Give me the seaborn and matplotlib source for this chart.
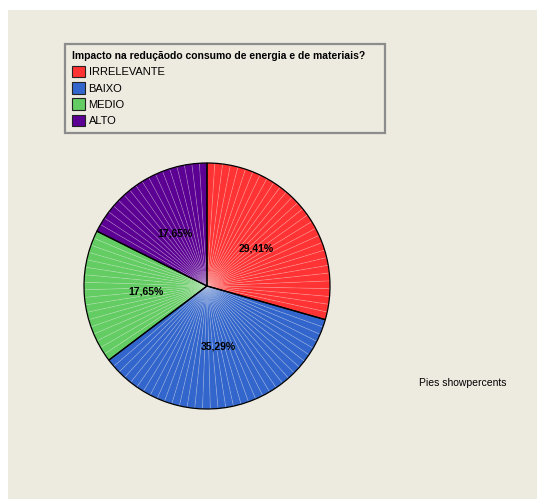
import matplotlib
matplotlib.use("Agg")
import matplotlib.pyplot as plt
from matplotlib.patches import Patch, Rectangle
import seaborn as sns

# Responses (counts) per category
categories = ["IRRELEVANTE", "BAIXO", "MEDIO", "ALTO"]
counts = [5, 6, 3, 3]
slice_colors = ["#FF3333", "#3366CC", "#63CC63", "#5C0094"]
legend_title = "Impacto na reduçãodo consumo de energia e de materiais?"
footnote = "Pies showpercents"

sns.set_style("white")
plt.rcParams["font.family"] = ["Liberation Sans", "DejaVu Sans"]
plt.rcParams["text.color"] = "black"

bg = "#EDEAE0"
W, H = 537, 499
fig = plt.figure(figsize=(W / 100, H / 100), dpi=100, facecolor="white")

# chart area panel (behind everything)
fig.patches.append(Rectangle((8 / W, 0), 1 - 8 / W, (H - 10) / H,
                             transform=fig.transFigure, facecolor=bg,
                             edgecolor="none", zorder=-10))

palette = sns.color_palette(slice_colors)

# pie axes
cx, cy, r = 207, 286, 123
ax = fig.add_axes([(cx - r) / W, (H - cy - r) / H, 2 * r / W, 2 * r / H])
ax.set_facecolor("none")

# each slice drawn as a fan of thin sub-wedges (light radial hatching)
total = sum(counts)
steps = 100
sub_vals, sub_cols = [], []
for c, col in zip(counts, palette):
    n = max(1, round(steps * c / total))
    sub_vals += [c / n] * n
    sub_cols += [col] * n
ax.pie(sub_vals, colors=sub_cols, startangle=90, counterclock=False,
       wedgeprops=dict(edgecolor=(1, 1, 1, 0.18), linewidth=0.6))

# outlines and percentage labels
_, _, autotexts = ax.pie(
    counts, colors=["none"] * len(counts), startangle=90, counterclock=False,
    autopct=lambda p: f"{p:.2f}%".replace(".", ","), pctdistance=0.5,
    wedgeprops=dict(edgecolor="black", linewidth=0.9, fill=False),
    textprops=dict(fontsize=7.5, fontweight="bold", color="black"))
ax.set_xlim(-1.0, 1.0)
ax.set_ylim(-1.0, 1.0)
ax.set_aspect("equal")
ax.axis("off")

# legend
handles = [Patch(facecolor=col, edgecolor="#222222", linewidth=0.8) for col in palette]
leg = fig.legend(handles, categories, title=legend_title,
                 loc="upper left",
                 bbox_to_anchor=(65 / W, (H - 133) / H, 320 / W, 89 / H),
                 mode="expand", borderaxespad=0, fancybox=False,
                 frameon=True, framealpha=1, facecolor=bg, edgecolor="#8C8C8C",
                 fontsize=8, title_fontsize=7.5, alignment="left",
                 handlelength=1.2, handleheight=1.2, handletextpad=0.3,
                 labelspacing=0.44, borderpad=0.62)
leg.get_title().set_fontweight("bold")
leg.get_frame().set_linewidth(1.6)

fig.text(419 / W, 1 - 383 / H, footnote, fontsize=7.5, va="center", ha="left")

fig.savefig("out.png", dpi=100, facecolor="white")
